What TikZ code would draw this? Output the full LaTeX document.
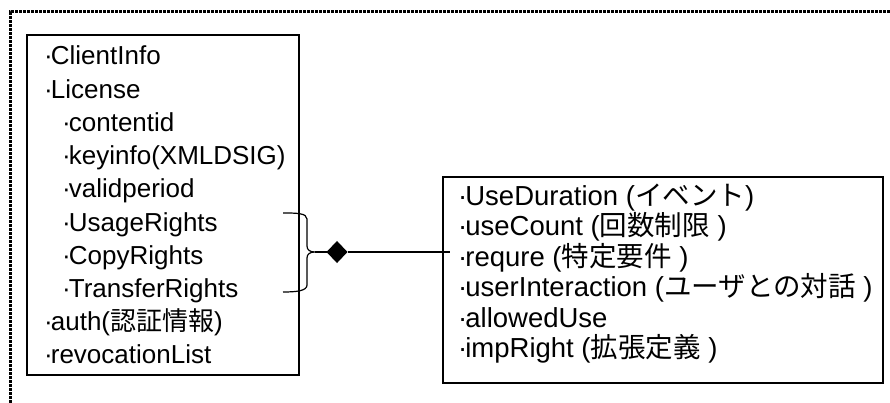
\documentclass[tikz,border=0pt]{standalone}
\usepackage{fontspec}
\setmainfont{Liberation Sans}
\newfontfamily\jp{Noto Sans CJK JP}
\usetikzlibrary{positioning, shapes.geometric}

\newcommand\bul{·\kern-2pt}

\tikzset{
  item/.style={inner sep=0pt, anchor=base west, font=\fontsize{26}{30}\selectfont},
  under/.style={below=of #1, anchor=base west},
  classbox/.style={draw, line width=1.4pt, inner sep=0pt},
  link/.style={line width=1.2pt}
}

\begin{document}
\begin{tikzpicture}
  [x=1pt, y=-1pt, node distance=33.2pt]
  \useasboundingbox (0,0) rectangle (890,403);

  % dotted frame, open to the right and below
  \draw[line width=3pt, dash pattern=on 3pt off 1pt]
    (10,403) -- (10,12) -- (890,12);

  % left class
  \node[classbox, minimum width=272pt, minimum height=340pt] (licbox) at (163,205) {};
  \node[item] (clientinfo) at (44,65) {\bul ClientInfo};
  \node[item, under=clientinfo.base west] (license) {\bul License};
  \node[item, under=license.base west, xshift=18pt] (contentid) {\bul contentid};
  \node[item, under=contentid.base west] (keyinfo) {\bul keyinfo(XMLDSIG)};
  \node[item, under=keyinfo.base west] (validperiod) {\bul validperiod};
  \node[item, under=validperiod.base west] (usage) {\bul UsageRights};
  \node[item, under=usage.base west] (copy) {\bul CopyRights};
  \node[item, under=copy.base west] (transfer) {\bul TransferRights};
  \node[item, under=transfer.base west, xshift=-18pt] (auth) {\bul auth({\jp 認証情報})};
  \node[item, under=auth.base west] (revocation) {\bul revocationList};

  % right class
  \node[classbox, minimum width=440pt, minimum height=206pt] (usebox) at (663,280) {};
  \begin{scope}[node distance=30.5pt, item/.append style={font=\fontsize{27.5}{30}\selectfont}]
    \node[item] (duration) at (458,205) {\bul UseDuration ({\jp イベント})};
    \node[item, under=duration.base west] (count) {\bul useCount ({\jp 回数制限} )};
    \node[item, under=count.base west] (requre) {\bul requre ({\jp 特定要件} )};
    \node[item, under=requre.base west] (interaction) {\bul userInteraction ({\jp ユーザとの対話} )};
    \node[item, under=interaction.base west] (allowed) {\bul allowedUse};
    \node[item, under=allowed.base west] (impright) {\bul impRight ({\jp 拡張定義} )};
  \end{scope}

  % brace over the three rights
  \coordinate (brtip) at (315,252);
  \draw[link] (283,213) .. controls (296,213) and (307,213) .. (307,219)
    -- (307,246) .. controls (307,250) and (310,252) .. (brtip)
    .. controls (310,252) and (307,254) .. (307,258)
    -- (307,285) .. controls (307,291) and (296,292) .. (283,292);

  % aggregation
  \node[diamond, draw, fill, line width=1pt, inner sep=0pt, minimum width=20pt, minimum height=21pt] (agg) at (337,252) {};
  \coordinate (lnend) at (450,252);
  \draw[link] (brtip) -- (agg);
  \draw[link] (agg) -- (lnend);
\end{tikzpicture}
\end{document}
